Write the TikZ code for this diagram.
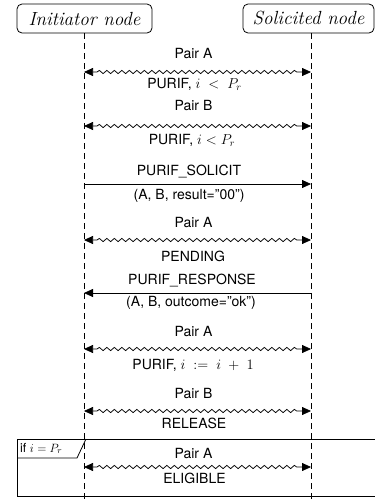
\documentclass[tikz,border=0pt]{standalone}
\usepackage{fontspec}
\setsansfont{TeX Gyre Heros}
\usetikzlibrary{arrows.meta,decorations.pathmorphing}
\begin{document}
\begin{tikzpicture}[x=1pt,y=-1pt,
  actor/.style={draw, rounded corners=5pt, line width=0.8pt, font=\fontsize{19}{21}\selectfont\itshape, inner sep=0pt},
  lifeline/.style={dash pattern=on 6pt off 4pt, line width=0.8pt},
  tip/.tip={Triangle[length=9pt,width=8pt]},
  wave/.style={tip-tip, line width=0.75pt, decorate, decoration={snake, amplitude=1.6pt, segment length=7.5pt, pre length=13pt, post length=13pt}},
  msg/.style={-tip, line width=0.8pt},
  lbl/.style={font=\sffamily\fontsize{14}{16}\selectfont, inner sep=0pt},
  frame/.style={line width=0.8pt}]
\useasboundingbox (0,0) rectangle (375,501);
\node[actor, minimum width=135pt, minimum height=29pt] (init) at (84.5,18.5) {Initiator node};
\node[actor, minimum width=131pt, minimum height=29pt] (sol) at (308.5,18.5) {Solicited node};
\coordinate (it) at (84,33); \coordinate (ib) at (84,501);
\coordinate (rt) at (311,33); \coordinate (rb) at (311,501);
\draw[lifeline] (it) -- (ib);
\draw[lifeline] (rt) -- (rb);
\foreach \n/\y in {1/72,2/126,3/184,4/240,5/293,6/349,7/411,8/467} {
  \coordinate (L\n) at (84,\y); \coordinate (R\n) at (311,\y);
}
\draw[wave] (L1) -- (R1);
\draw[wave] (L2) -- (R2);
\draw[msg] (L3) -- (R3);
\draw[wave] (L4) -- (R4);
\draw[msg] (R5) -- (L5);
\draw[wave] (L6) -- (R6);
\draw[wave] (L7) -- (R7);
\draw[wave] (L8) -- (R8);
\node[lbl] (a1) at (193.5,53) {Pair A};
\node[lbl] (b1) at (194.5,84) {PURIF, $i\;<\;P_r$};
\node[lbl] (a2) at (193.5,105) {Pair B};
\node[lbl] (b2) at (192,140) {PURIF, $i<P_r$};
\node[lbl] (a3) at (189,172) {PURIF\_SOLICIT};
\node[lbl] (b3) at (189,196) {(A, B, result=''00'')};
\node[lbl] (a4) at (193.5,222) {Pair A};
\node[lbl] (b4) at (193,256) {PENDING};
\node[lbl] (a5) at (192,281) {PURIF\_RESPONSE};
\node[lbl] (b5) at (191,303) {(A, B, outcome=''ok'')};
\node[lbl] (a6) at (193.5,331) {Pair A};
\node[lbl] (b6) at (193,365) {PURIF, $i\;:=\;i\;+\;1$};
\node[lbl] (a7) at (193.5,393) {Pair B};
\node[lbl] (b7) at (194,423) {RELEASE};
\node[lbl] (a8) at (193.5,453) {Pair A};
\node[lbl] (b8) at (194.5,478) {ELIGIBLE};
\draw[frame] (17,439) rectangle (380,496);
\draw[frame] (17,458) -- (77,458) -- (86,439);
\node[font=\sffamily\fontsize{12.5}{14}\selectfont, inner sep=0pt, anchor=west] (cond) at (20,448.5) {if $i = P_r$};
\end{tikzpicture}
\end{document}
